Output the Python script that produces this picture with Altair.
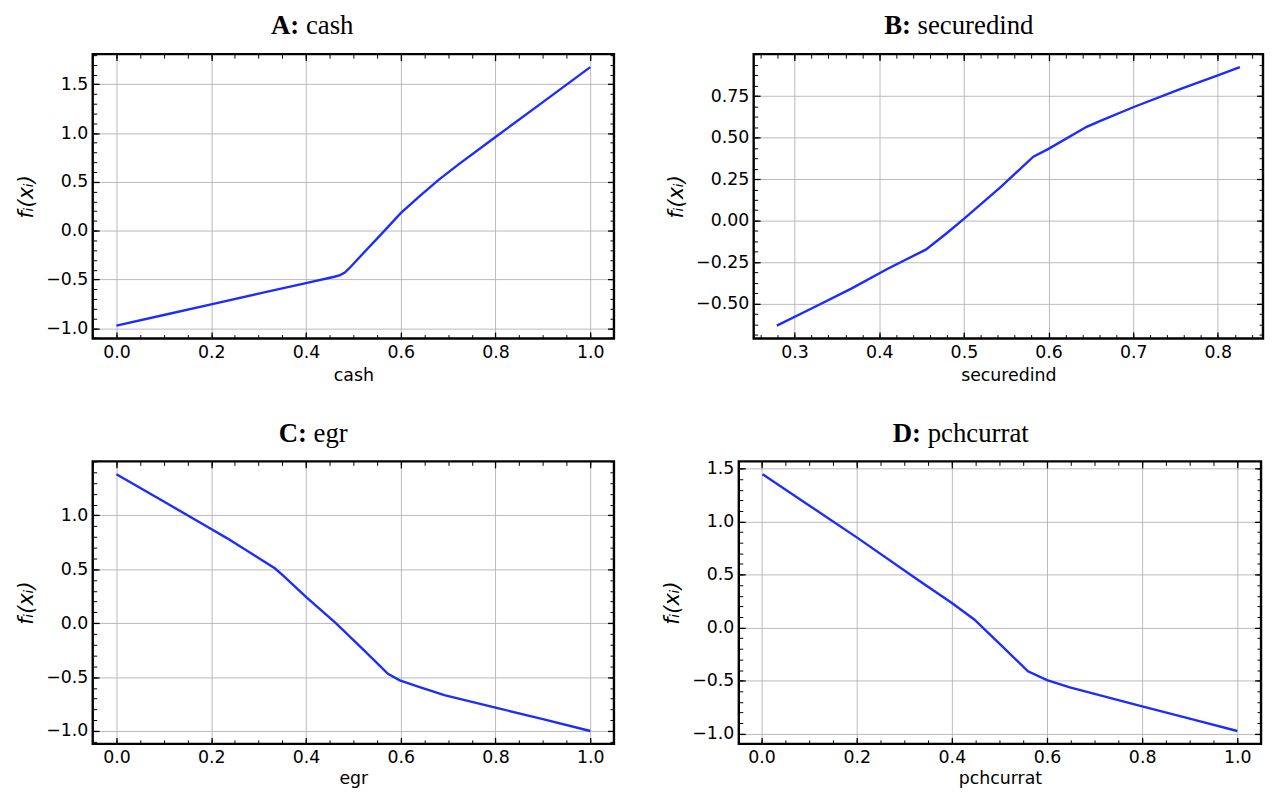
import math
import altair as alt
import pandas as pd

# ---------------- data ----------------
cash_x = [0.0, 0.1, 0.2, 0.3, 0.4, 0.46, 0.472, 0.482, 0.495, 0.52, 0.56, 0.6, 0.64, 0.68, 0.72, 0.8, 0.9, 1.0]
cash_y = [-0.973, -0.864, -0.755, -0.646, -0.537, -0.472, -0.455, -0.43, -0.367, -0.237, -0.03, 0.18, 0.354, 0.52, 0.672, 0.959, 1.317, 1.676]

secured_x = [0.279, 0.32, 0.367, 0.41, 0.455, 0.48, 0.5, 0.544, 0.582, 0.6, 0.645, 0.662, 0.7, 0.757, 0.8, 0.826]
secured_y = [-0.633, -0.53, -0.41, -0.29, -0.175, -0.075, 0.01, 0.205, 0.385, 0.432, 0.565, 0.602, 0.683, 0.795, 0.875, 0.925]

egr_x = [0.0, 0.1, 0.2, 0.233, 0.3, 0.335, 0.352, 0.4, 0.463, 0.52, 0.573, 0.598, 0.64, 0.692, 0.8, 0.9, 1.0]
egr_y = [1.381, 1.128, 0.874, 0.789, 0.604, 0.507, 0.44, 0.243, 0.0, -0.24, -0.47, -0.53, -0.592, -0.668, -0.783, -0.89, -1.0]

pch_x = [0.002, 0.1, 0.2, 0.329, 0.4, 0.447, 0.5, 0.56, 0.6, 0.648, 0.7, 0.8, 0.9, 1.0]
pch_y = [1.446, 1.152, 0.851, 0.449, 0.232, 0.077, -0.152, -0.412, -0.495, -0.563, -0.624, -0.743, -0.859, -0.975]

panel_letters = ["A:", "B:", "C:", "D:"]
panel_names = ["cash", "securedind", "egr", "pchcurrat"]

ticks_x_unit = [0.0, 0.2, 0.4, 0.6, 0.8, 1.0]
ticks_x_secured = [0.3, 0.4, 0.5, 0.6, 0.7, 0.8]
ticks_y_cash = [-1.0, -0.5, 0.0, 0.5, 1.0, 1.5]
ticks_y_secured = [-0.5, -0.25, 0.0, 0.25, 0.5, 0.75]
ticks_y_egr = [-1.0, -0.5, 0.0, 0.5, 1.0]
ticks_y_pch = [-1.0, -0.5, 0.0, 0.5, 1.0, 1.5]

# ---------------- style ----------------
LINE_COLOR = "#1c2cff"
GRID_COLOR = "#b3b3b3"
SANS = "DejaVu Sans"
SERIF = "Liberation Serif"
TITLE_SIZE = 27
LABEL_SIZE = 17.5
YTITLE_SIZE = 21
MAJ = 6.5
MIN = 4
TITLE_Y = -20
YTITLE = "f\u1d62(x\u1d62)"

REG_W = {'a': .444, 'c': .444, 'd': .5, 'e': .444, 'g': .5, 'h': .5, 'i': .278,
         'n': .5, 'p': .5, 'r': .333, 's': .389, 't': .278, 'u': .5}
BOLD_W = {'A': .722, 'B': .667, 'C': .722, 'D': .722, ':': .333}


def text_w(s, table):
    return sum(table.get(ch, 0.5) for ch in s) * TITLE_SIZE


def minor_values(lo, hi, step):
    a = math.ceil(lo / step - 1e-9)
    b = math.floor(hi / step + 1e-9)
    return [round(i * step, 6) for i in range(a, b + 1)]


def panel(xs, ys, letter, name, width, height, xmaj, ymaj, xstep, ystep,
          xfmt, yfmt, center, xtitle_pad):
    df = pd.DataFrame({"x": xs, "y": ys})
    xr = max(xs) - min(xs)
    yr = max(ys) - min(ys)
    xdom = [min(xs) - 0.05 * xr, max(xs) + 0.05 * xr]
    ydom = [min(ys) - 0.05 * yr, max(ys) + 0.05 * yr]
    xsc = alt.Scale(domain=xdom, nice=False, zero=False)
    ysc = alt.Scale(domain=ydom, nice=False, zero=False)
    xmin = minor_values(xdom[0], xdom[1], xstep)
    ymin = minor_values(ydom[0], ydom[1], ystep)
    base = alt.Chart(df)

    def tick_axis(orient, values, size):
        return alt.Axis(orient=orient, values=values, labels=False, title=None,
                        grid=False, domain=False, ticks=True, tickSize=size,
                        offset=-size, tickColor="black",
                        tickWidth=1.3 if size == MAJ else 1.0)

    main = base.mark_line(color=LINE_COLOR, strokeWidth=2.4).encode(
        x=alt.X("x:Q", scale=xsc, axis=alt.Axis(
            orient="bottom", values=xmaj, format=xfmt, title=name,
            labelFont=SANS, labelFontSize=LABEL_SIZE, labelColor="black",
            titleFont=SANS, titleFontSize=LABEL_SIZE, titleColor="black",
            titleFontWeight="normal",
            grid=True, gridColor=GRID_COLOR, gridWidth=0.9, domain=False,
            ticks=True, tickSize=MAJ, offset=-MAJ, tickColor="black",
            tickWidth=1.3, labelPadding=5, titlePadding=xtitle_pad)),
        y=alt.Y("y:Q", scale=ysc, axis=alt.Axis(
            orient="left", values=ymaj, format=yfmt, title=YTITLE,
            labelFont=SANS, labelFontSize=LABEL_SIZE, labelColor="black",
            titleFont=SANS, titleFontSize=YTITLE_SIZE, titleColor="black",
            titleFontWeight="normal", titleFontStyle="italic",
            grid=True, gridColor=GRID_COLOR, gridWidth=0.9, domain=False,
            ticks=True, tickSize=MAJ, offset=-MAJ, tickColor="black",
            tickWidth=1.3, labelPadding=5, titlePadding=9)),
    )
    maj_tr = base.mark_line(opacity=0).encode(
        x=alt.X("x:Q", scale=xsc, axis=tick_axis("top", xmaj, MAJ)),
        y=alt.Y("y:Q", scale=ysc, axis=tick_axis("right", ymaj, MAJ)),
    )
    min_bl = base.mark_line(opacity=0).encode(
        x=alt.X("x:Q", scale=xsc, axis=tick_axis("bottom", xmin, MIN)),
        y=alt.Y("y:Q", scale=ysc, axis=tick_axis("left", ymin, MIN)),
    )
    min_tr = base.mark_line(opacity=0).encode(
        x=alt.X("x:Q", scale=xsc, axis=tick_axis("top", xmin, MIN)),
        y=alt.Y("y:Q", scale=ysc, axis=tick_axis("right", ymin, MIN)),
    )

    wl = text_w(letter, BOLD_W)
    gap = 0.25 * TITLE_SIZE
    wn = text_w(name, REG_W)
    left = center - (wl + gap + wn) / 2
    split = left + wl
    t_letter = alt.Chart(pd.DataFrame({"t": [letter]})).mark_text(
        font=SERIF, fontSize=TITLE_SIZE, fontWeight="bold", align="right",
        baseline="alphabetic", color="black"
    ).encode(text="t:N", x=alt.value(split), y=alt.value(TITLE_Y))
    t_name = alt.Chart(pd.DataFrame({"t": [name]})).mark_text(
        font=SERIF, fontSize=TITLE_SIZE, fontWeight="normal", align="left",
        baseline="alphabetic", color="black"
    ).encode(text="t:N", x=alt.value(split + gap), y=alt.value(TITLE_Y))

    return alt.layer(main, maj_tr, min_bl, min_tr, t_letter, t_name).resolve_axis(
        x="independent", y="independent"
    ).properties(width=width, height=height)


pA = panel(cash_x, cash_y, panel_letters[0], panel_names[0], 526, 287,
           ticks_x_unit, ticks_y_cash, 0.05, 0.1, ".1f", ".1f", 221.5, 6)
pB = panel(secured_x, secured_y, panel_letters[1], panel_names[1], 514, 287,
           ticks_x_secured, ticks_y_secured, 0.02, 0.0625, ".1f", ".2f", 207, 6)
pC = panel(egr_x, egr_y, panel_letters[2], panel_names[2], 526, 285,
           ticks_x_unit, ticks_y_egr, 0.05, 0.1, ".1f", ".1f", 222.5, 4)
pD = panel(pch_x, pch_y, panel_letters[3], panel_names[3], 527, 285,
           ticks_x_unit, ticks_y_pch, 0.05, 0.1, ".1f", ".1f", 224, 4)

row1 = alt.hconcat(pA, pB, spacing=49)
row2 = alt.hconcat(pC, pD, spacing=45)

chart = alt.vconcat(row1, row2, spacing=32).properties(
    padding={"left": 6.5, "top": -1, "right": 0, "bottom": -3},
    background="white"
).configure_view(
    stroke="black", strokeWidth=2.4
)

chart.save("out.html", embed_options={"renderer": "svg", "actions": False})
